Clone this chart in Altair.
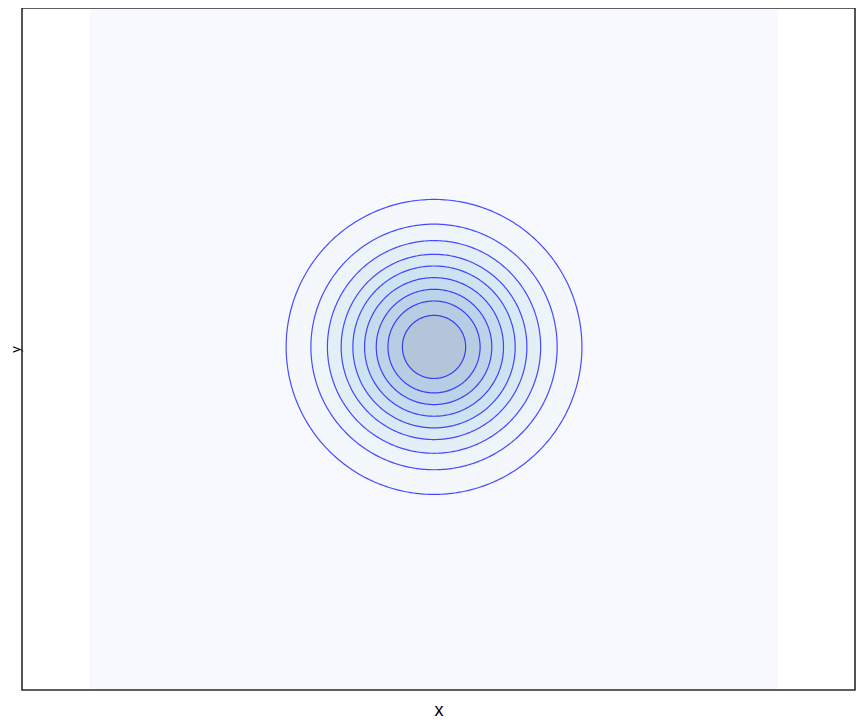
import altair as alt
import numpy as np
import pandas as pd

# Contour levels of the surface and the radii (data units)
levels = [0.1, 0.2, 0.3, 0.4, 0.5, 0.6, 0.7, 0.8, 0.9]
radii = [2.15, 1.79, 1.55, 1.35, 1.18, 1.01, 0.84, 0.67, 0.46]
# fill colour of the band inside each contour (outer -> inner)
band_colors = ["#f4f8fc", "#eef5fa", "#e4eef7", "#d9eaf4", "#cee3f1",
               "#c4dced", "#bcd4e9", "#b6cde3", "#b5c5d9"]
field_color = "#f8f9fe"
grid_extent = [-5.0, 5.0]
x_domain = [-5.99, 6.12]
y_domain = [-5.0, 4.94]

xs = alt.Scale(domain=x_domain, nice=False, zero=False)
ys = alt.Scale(domain=y_domain, nice=False, zero=False)
xaxis = alt.Axis(labels=False, ticks=False, domain=False, grid=False, title="x",
                 titleFontSize=18, titleFontWeight="normal", titleFont="Liberation Sans",
                 titleColor="#000000", titlePadding=11)
yaxis = alt.Axis(labels=False, ticks=False, domain=False, grid=False, title="y",
                 titleFontSize=13, titleFontWeight="normal", titleFont="Liberation Sans",
                 titleColor="#000000", titleX=-7, titleBaseline="middle")

# background field (extent of the evaluated grid)
bg = pd.DataFrame({"x": [grid_extent[0]], "x2": [grid_extent[1]],
                   "y": [grid_extent[0]], "y2": [grid_extent[1]]})
layers = [
    alt.Chart(bg).mark_rect(color=field_color, clip=True).encode(
        x=alt.X("x:Q", scale=xs, axis=xaxis), x2="x2:Q",
        y=alt.Y("y:Q", scale=ys, axis=yaxis), y2="y2:Q")
]

half = np.linspace(0, np.pi, 361)
for lev, r, c in zip(levels, radii, band_colors):
    d = pd.DataFrame({"x": r * np.cos(half), "y": r * np.sin(half),
                      "y2": -r * np.sin(half)})
    layers.append(
        alt.Chart(d).mark_area(color=c, opacity=1, clip=True, interpolate="linear").encode(
            x=alt.X("x:Q", scale=xs, axis=xaxis),
            y=alt.Y("y:Q", scale=ys, axis=yaxis, stack=None), y2="y2:Q")
    )

full = np.linspace(0, 2 * np.pi, 361)
rows = []
for lev, r in zip(levels, radii):
    for i, t in enumerate(full):
        rows.append({"level": lev, "i": i, "x": r * np.cos(t), "y": r * np.sin(t)})
outline = pd.DataFrame(rows)
layers.append(
    alt.Chart(outline).mark_line(color="#0000ff", opacity=0.7, strokeWidth=1.2, clip=True).encode(
        x=alt.X("x:Q", scale=xs, axis=xaxis),
        y=alt.Y("y:Q", scale=ys, axis=yaxis),
        detail="level:N", order="i:Q")
)

# frame of the axes box, drawn on top
frame = pd.DataFrame({"x": [x_domain[0]], "x2": [x_domain[1]],
                      "y": [y_domain[0]], "y2": [y_domain[1]]})
layers.append(
    alt.Chart(frame).mark_rect(filled=False, stroke="#2a2a2a", strokeWidth=1.6).encode(
        x=alt.X("x:Q", scale=xs, axis=xaxis), x2="x2:Q",
        y=alt.Y("y:Q", scale=ys, axis=yaxis), y2="y2:Q")
)

chart = alt.layer(*layers).properties(
    width=833, height=682,
    background="white",
    autosize=alt.AutoSizeParams(type="none"),
    padding={"left": 14, "top": 0, "right": 3, "bottom": 30},
).configure_view(stroke=None)

chart.save("out.html", embed_options={"renderer": "svg", "actions": False})
